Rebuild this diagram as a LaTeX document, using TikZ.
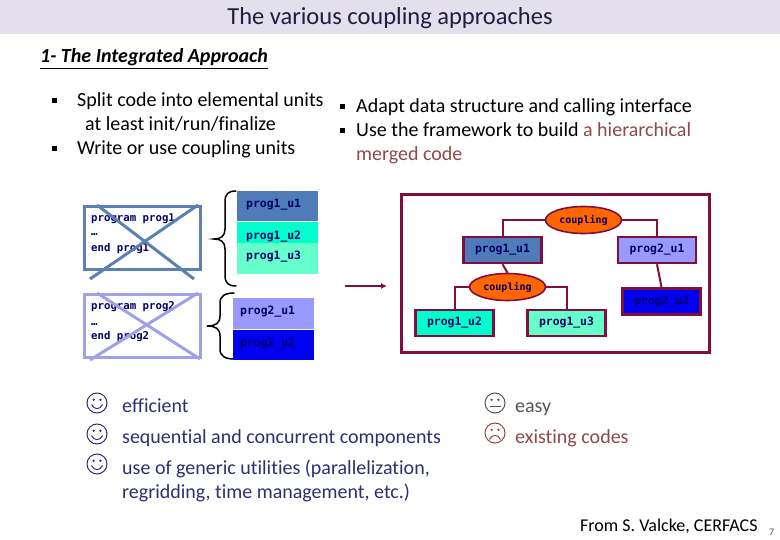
\documentclass[tikz,border=0pt]{standalone}
\usepackage{fontspec}
\setmainfont[Ligatures=NoCommon]{Carlito}
\newfontfamily\progfont{DejaVu Sans Mono}
\usetikzlibrary{shapes.geometric,arrows.meta}
\definecolor{band}{HTML}{E3DFEC}
\definecolor{ink}{HTML}{1F1F3A}
\definecolor{maroon}{HTML}{7F0F3F}
\definecolor{steel}{HTML}{4F7CB8}
\definecolor{crossA}{HTML}{5B80B2}
\definecolor{crossB}{HTML}{A0A0E8}
\definecolor{peri}{HTML}{9999FF}
\definecolor{aquaA}{HTML}{00FFCC}
\definecolor{aquaB}{HTML}{66FFCC}
\definecolor{pureblue}{HTML}{0000F0}
\definecolor{navy}{HTML}{000066}
\definecolor{orangeC}{HTML}{FF6600}
\definecolor{goodtxt}{HTML}{2E2E70}
\definecolor{redtxt}{HTML}{8C4A4A}
\definecolor{greytxt}{HTML}{555555}
\newcommand{\mlab}[1]{\raisebox{1.5pt}{#1}\hspace{11pt}}
\tikzset{
  x=1pt,y=-1pt,
  txt/.style={anchor=base west,inner sep=0pt,font=\fontsize{#1}{#1}\selectfont},
  txt/.default=20,
  blt/.style={fill=black,minimum size=5pt,inner sep=0pt,draw=none},
  code/.style={anchor=base west,inner sep=0pt,font=\progfont\bfseries\fontsize{10.7}{10.7}\selectfont,text=navy},
  ucode/.style={anchor=base west,inner sep=0pt,font=\progfont\bfseries\fontsize{11.4}{11.4}\selectfont,text=navy},
  unit/.style={draw=none,minimum width=81pt,inner sep=0pt,anchor=north west},
  mbox/.style={draw=maroon,line width=2.5pt,minimum width=78pt,minimum height=26pt,inner sep=0pt,font=\progfont\bfseries\fontsize{11.4}{11.4}\selectfont,text=navy},
  coup/.style={ellipse,draw=maroon,line width=1.6pt,fill=orangeC,minimum width=76pt,minimum height=27pt,inner sep=0pt,font=\progfont\bfseries\fontsize{10}{10}\selectfont,text=navy},
  link/.style={draw=maroon,line width=2pt},
  oldbox/.style={draw=#1,line width=3pt,minimum width=116pt,minimum height=63pt,inner sep=0pt,anchor=north west},
  xline/.style={draw=#1,line width=3pt},
  brace/.style={draw=black,line width=1.5pt,line cap=round},
  face/.style={draw=#1,line width=1pt},
  pics/smile/.style={code={
    \draw[face=#1] (0,0) circle[radius=10pt];
    \fill[#1] (-3.4,-3.2) circle[radius=1.3pt] (3.4,-3.2) circle[radius=1.3pt];
    \draw[face=#1] (-5.5,1.5) .. controls (-3,7) and (3,7) .. (5.5,1.5);
  }},
  pics/flat/.style={code={
    \draw[face=#1] (0,0) circle[radius=10pt];
    \fill[#1] (-3.4,-3.2) circle[radius=1.3pt] (3.4,-3.2) circle[radius=1.3pt];
    \draw[face=#1] (-5.5,3.5) -- (5.5,3.5);
  }},
  pics/sad/.style={code={
    \draw[face=#1] (0,0) circle[radius=10pt];
    \fill[#1] (-3.4,-3.2) circle[radius=1.3pt] (3.4,-3.2) circle[radius=1.3pt];
    \draw[face=#1] (-5.5,6.5) .. controls (-3,1) and (3,1) .. (5.5,6.5);
  }},
}
\begin{document}
\begin{tikzpicture}
\useasboundingbox (0,0) rectangle (780,540);
% header
\fill[band] (0,0) rectangle (780,34);
\node[txt=24.5,text=ink,anchor=base] (title) at (390,25) {The various coupling approaches};
\node[txt=20,text=black] (sub) at (40,63) {\underline{\textbf{\textit{1- The Integrated Approach}}}};
% bullets left
\node[blt] (b1) at (54,101) {};
\node[txt] (t1) at (77,107) {Split code into elemental units};
\node[txt] (t2) at (85,131) {at least init/run/finalize};
\node[blt] (b2) at (54,149) {};
\node[txt] (t3) at (77,155) {Write or use coupling units};
% bullets right
\node[blt] (b3) at (342,107) {};
\node[txt] (t4) at (356,113) {Adapt data structure and calling interface};
\node[blt] (b4) at (342,131) {};
\node[txt] (t5) at (356,137) {Use the framework to build \textcolor{redtxt}{a hierarchical}};
\node[txt,text=redtxt] (t6) at (356,161) {merged code};
% old programs
\node[oldbox=crossA] (old1) at (83,205) {};
\node[code] (o1a) at (91,222) {program prog1};
\node[code] (o1b) at (91,236) {\dots};
\node[code] (o1c) at (91,252) {end prog1};
\draw[xline=crossA] (97,205) -- (194,279);
\draw[xline=crossA] (198,205) -- (90,279);
\node[oldbox=crossB] (old2) at (83,293) {};
\node[code] (o2a) at (91,310) {program prog2};
\node[code] (o2b) at (91,326) {\dots};
\node[code] (o2c) at (91,340) {end prog2};
\draw[xline=crossB] (97,293) -- (200,359);
\draw[xline=crossB] (198,293) -- (90,360);
% braces
\draw[brace] (236,191) .. controls (228,191) and (225,194) .. (225,202)
  -- (225,229) .. controls (225,236) and (221,239) .. (214,239)
  .. controls (221,239) and (225,242) .. (225,249)
  -- (225,275) .. controls (225,283) and (228,286) .. (236,286);
\draw[brace] (234,293) .. controls (225,293) and (220,296) .. (220,303)
  -- (220,316) .. controls (220,323) and (216,326) .. (207,326)
  .. controls (216,326) and (220,329) .. (220,336)
  -- (220,349) .. controls (220,356) and (225,359) .. (234,359);
% unit stacks
\node[unit,fill=steel,minimum height=30pt] (s11) at (237,191) {};
\node[unit,fill=aquaB,minimum height=52pt] (s13) at (237,221.5) {};
\node[unit,fill=aquaA,minimum height=21pt] (s12) at (237,222) {};
\node[ucode] (l11) at (246,208) {prog1\_u1};
\node[ucode] (l12) at (246,240) {prog1\_u2};
\node[ucode] (l13) at (246,260) {prog1\_u3};
\node[unit,fill=peri,minimum height=31pt] (s21) at (233,298) {};
\node[unit,fill=pureblue,minimum height=30pt] (s22) at (233,330) {};
\node[ucode] (l21) at (240,315) {prog2\_u1};
\node[ucode] (l22) at (240,347) {prog2\_u2};
% arrow
\coordinate (arrA) at (345,286);
\coordinate (arrB) at (387,286);
\draw[draw=maroon,line width=1.5pt,-{Latex[length=6pt,width=6pt]}] (arrA) -- (arrB);
% merged code
\node[draw=maroon,line width=3pt,minimum width=308pt,minimum height=158pt,inner sep=0pt,anchor=north west] (frame) at (400,193) {};
\node[mbox,fill=steel] (m11) at (502.5,250) {\mlab{prog1\_u1}};
\node[mbox,fill=peri] (m21) at (657,250) {\mlab{prog2\_u1}};
\node[mbox,fill=pureblue] (m22) at (661.5,301.5) {\mlab{prog2\_u2}};
\node[mbox,fill=aquaA] (m12) at (454.5,323) {\mlab{prog1\_u2}};
\node[mbox,fill=aquaB] (m13) at (566.5,323) {\mlab{prog1\_u3}};
\node[coup] (c1) at (583.5,220) {\raisebox{1pt}{coupling}\hspace{6pt}};
\node[coup] (c2) at (507.5,287) {\raisebox{1pt}{coupling}\hspace{6pt}};
\draw[link] (c1.west) -| (m11.north);
\draw[link] (c1.east) -| (m21.north);
\draw[link] (c2.west) -| (m12.north);
\draw[link] (c2.east) -| (m13.north);
\draw[link] (m11.south) -- (c2.north);
\draw[link] (m21.south) -- (m22.north);
% pros and cons
\pic at (97,403) {smile=goodtxt};
\pic at (97,434) {smile=goodtxt};
\pic at (97,464) {smile=goodtxt};
\node[txt,text=goodtxt] (g1) at (122,412) {efficient};
\node[txt,text=goodtxt] (g2) at (122,443) {sequential and concurrent components};
\node[txt,text=goodtxt] (g3) at (122,474) {use of generic utilities (parallelization,};
\node[txt,text=goodtxt] (g4) at (122,498) {regridding, time management, etc.)};
\pic at (495,403) {flat=greytxt};
\pic at (495,433) {sad=redtxt};
\node[txt,text=greytxt] (n1) at (515,412) {easy};
\node[txt,text=redtxt] (n2) at (515,443) {existing codes};
% credit
\node[txt=18,text=black] (cr) at (580,531) {From S. Valcke, CERFACS};
\node[txt=10,text=greytxt] (pg) at (769,535) {7};
\end{tikzpicture}
\end{document}
